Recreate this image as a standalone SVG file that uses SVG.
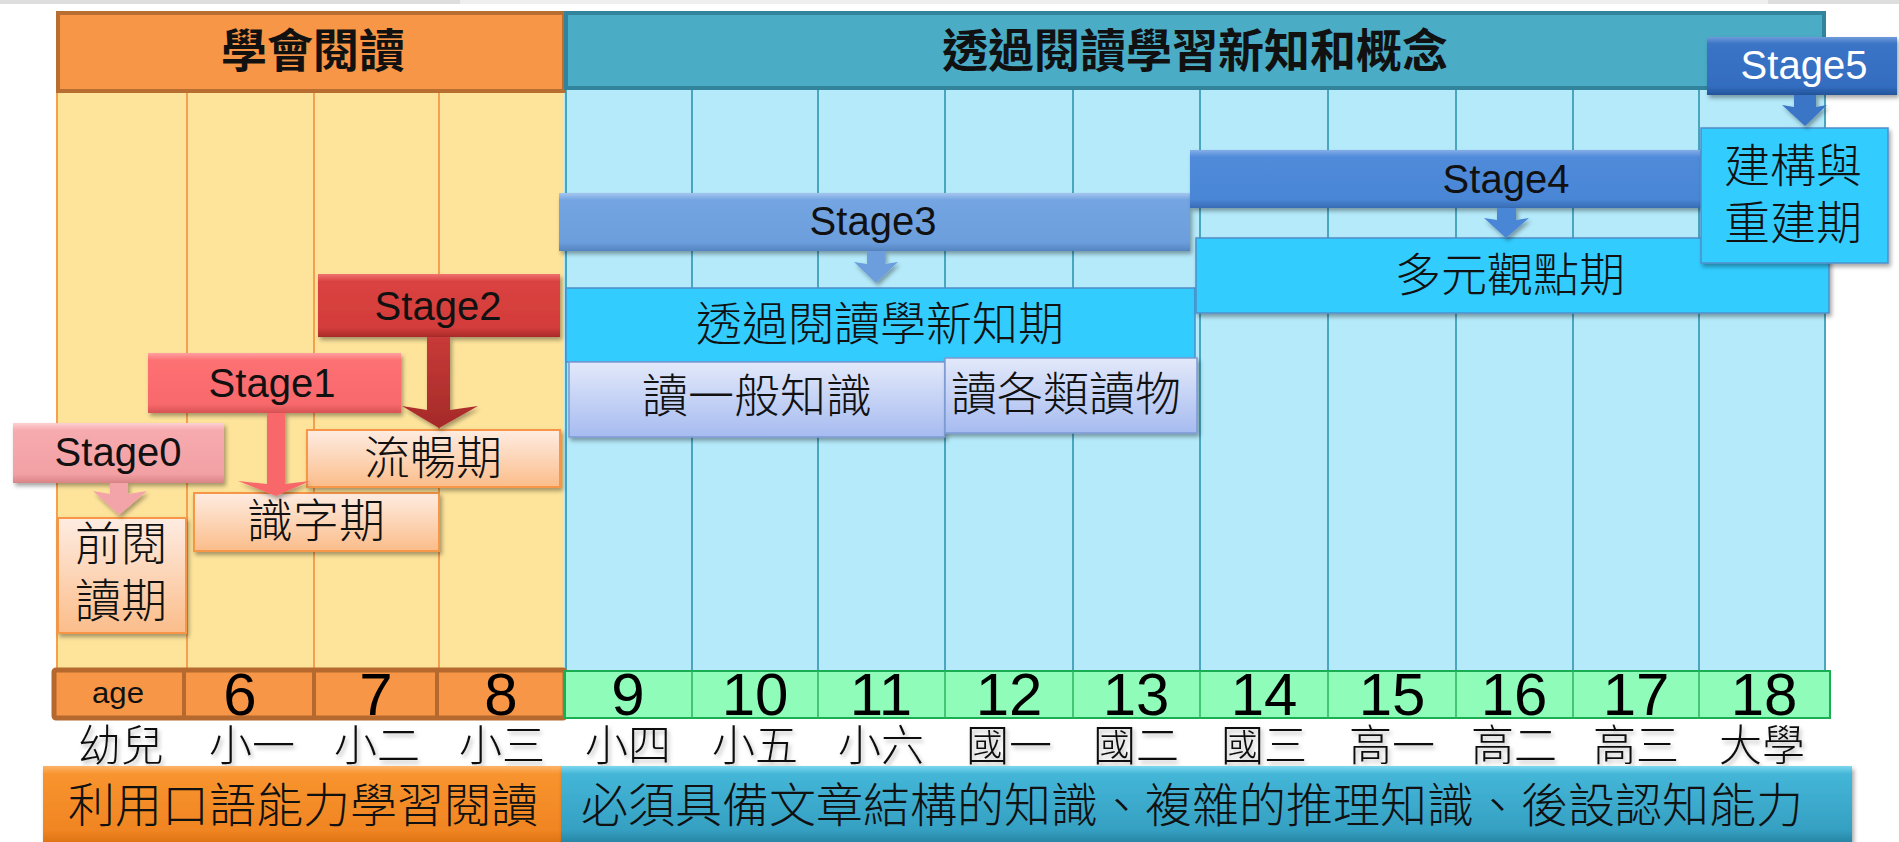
<svg xmlns="http://www.w3.org/2000/svg" width="1899" height="842" viewBox="0 0 1899 842">
<style>
.cjk{font-family:"Noto Sans CJK TC","Noto Sans CJK SC",sans-serif;fill:#111;}
.hdr{font-size:46px;font-weight:700;text-anchor:middle;}
.lbl{font-size:46px;font-weight:300;text-anchor:middle;}
.grade{font-size:43px;font-weight:300;text-anchor:middle;}
.stg{font-family:"Liberation Sans",Arial,sans-serif;font-size:40px;text-anchor:middle;fill:#111;}
.num{font-family:"Liberation Sans",Arial,sans-serif;font-size:60px;text-anchor:middle;fill:#000;}
.ycol{stroke:#F5A04F;stroke-width:2;}
.bcol{stroke:#4AA6BF;stroke-width:2;}
.gdiv{stroke:#2DB45C;stroke-width:1.5;}
.odiv{stroke:#B5692F;stroke-width:4;}
.peach{fill:url(#peach);stroke:#F79646;stroke-width:2;}
.cyan{fill:#33CCFF;stroke:#4F8FC9;stroke-width:1.5;}
.lav{fill:url(#lav);stroke:#7C9AD4;stroke-width:1.5;}
</style>
<defs>
<filter id="sh" x="-10%" y="-20%" width="130%" height="160%"><feDropShadow dx="2" dy="3" stdDeviation="2" flood-color="#000" flood-opacity="0.35"/></filter>
<filter id="tsh" x="-10%" y="-20%" width="130%" height="160%"><feDropShadow dx="2" dy="3" stdDeviation="2" flood-color="#000" flood-opacity="0.28"/></filter>
<linearGradient id="g0" x1="0" y1="0" x2="0" y2="1"><stop offset="0" stop-color="#FCD0D2"/><stop offset="0.12" stop-color="#F7ABAE"/><stop offset="0.85" stop-color="#F2A0A4"/><stop offset="1" stop-color="#D98487"/></linearGradient>
<linearGradient id="g1" x1="0" y1="0" x2="0" y2="1"><stop offset="0" stop-color="#FFA0A2"/><stop offset="0.12" stop-color="#FD7073"/><stop offset="0.85" stop-color="#F8696C"/><stop offset="1" stop-color="#D85254"/></linearGradient>
<linearGradient id="g2" x1="0" y1="0" x2="0" y2="1"><stop offset="0" stop-color="#F07270"/><stop offset="0.12" stop-color="#DA4341"/><stop offset="0.85" stop-color="#D33C3A"/><stop offset="1" stop-color="#A82B2A"/></linearGradient>
<linearGradient id="g3" x1="0" y1="0" x2="0" y2="1"><stop offset="0" stop-color="#A6C6EE"/><stop offset="0.12" stop-color="#74A5E2"/><stop offset="0.85" stop-color="#6C9EDD"/><stop offset="1" stop-color="#5584C0"/></linearGradient>
<linearGradient id="g4" x1="0" y1="0" x2="0" y2="1"><stop offset="0" stop-color="#86AEE8"/><stop offset="0.12" stop-color="#508BDA"/><stop offset="0.85" stop-color="#4A86D6"/><stop offset="1" stop-color="#386CB4"/></linearGradient>
<linearGradient id="g5" x1="0" y1="0" x2="0" y2="1"><stop offset="0" stop-color="#6F9BDA"/><stop offset="0.12" stop-color="#3A74C6"/><stop offset="0.85" stop-color="#336DC0"/><stop offset="1" stop-color="#24549A"/></linearGradient>
<linearGradient id="a2" x1="0" y1="0" x2="0" y2="1"><stop offset="0" stop-color="#C83A38"/><stop offset="1" stop-color="#A52A29"/></linearGradient>
<linearGradient id="peach" x1="0" y1="0" x2="0" y2="1"><stop offset="0" stop-color="#FEECE2"/><stop offset="1" stop-color="#FBBD8A"/></linearGradient>
<linearGradient id="lav" x1="0" y1="0" x2="0" y2="1"><stop offset="0" stop-color="#E3E9FA"/><stop offset="1" stop-color="#A6BBF0"/></linearGradient>
<linearGradient id="bo" x1="0" y1="0" x2="0" y2="1"><stop offset="0" stop-color="#FDB46A"/><stop offset="0.1" stop-color="#F8942F"/><stop offset="0.8" stop-color="#F08522"/><stop offset="1" stop-color="#D86F12"/></linearGradient>
<linearGradient id="bt" x1="0" y1="0" x2="0" y2="1"><stop offset="0" stop-color="#7DD6EE"/><stop offset="0.1" stop-color="#44B6D8"/><stop offset="0.8" stop-color="#35A0C2"/><stop offset="1" stop-color="#247E9C"/></linearGradient>
</defs>

<rect x="0" y="0" width="1899" height="842" fill="#FFFFFF"/>
<rect x="0" y="0" width="1899" height="4" fill="#EEEEEE"/>
<rect x="0" y="0" width="460" height="4" fill="#DEDEDE"/>
<rect x="1768" y="0" width="131" height="4" fill="#DEDEDE"/>

<g id="grid">
<rect x="57" y="92" width="507" height="578" fill="#FEE49B"/>
<rect x="564" y="89" width="1261" height="582" fill="#B5EAFA"/>
<line class="ycol" x1="57" y1="92" x2="57" y2="670"/>
<line class="ycol" x1="187" y1="92" x2="187" y2="670"/>
<line class="ycol" x1="314" y1="92" x2="314" y2="670"/>
<line class="ycol" x1="439" y1="92" x2="439" y2="670"/>
<line class="bcol" x1="566" y1="89" x2="566" y2="671"/>
<line class="bcol" x1="692" y1="89" x2="692" y2="671"/>
<line class="bcol" x1="818" y1="89" x2="818" y2="671"/>
<line class="bcol" x1="945" y1="89" x2="945" y2="671"/>
<line class="bcol" x1="1073" y1="89" x2="1073" y2="671"/>
<line class="bcol" x1="1200" y1="89" x2="1200" y2="671"/>
<line class="bcol" x1="1328" y1="89" x2="1328" y2="671"/>
<line class="bcol" x1="1456" y1="89" x2="1456" y2="671"/>
<line class="bcol" x1="1573" y1="89" x2="1573" y2="671"/>
<line class="bcol" x1="1699" y1="89" x2="1699" y2="671"/>
<line class="bcol" x1="1825" y1="89" x2="1825" y2="671"/>
</g>

<g id="header-learn">
<rect x="58" y="13" width="506" height="78" fill="#F79646" stroke="#B86E30" stroke-width="4"/>
<text class="cjk hdr" x="313" y="67">學會閱讀</text>
</g>
<g id="header-read">
<rect x="566" y="13" width="1258" height="75" fill="#4BACC6" stroke="#31849B" stroke-width="4"/>
<text class="cjk hdr" x="1195" y="67">透過閱讀學習新知和概念</text>
</g>

<g id="age-row">
<rect x="54" y="670" width="511" height="48" fill="#F79646" stroke="#B5692F" stroke-width="5" rx="2"/>
<line class="odiv" x1="184" y1="670" x2="184" y2="718"/>
<line class="odiv" x1="314" y1="670" x2="314" y2="718"/>
<line class="odiv" x1="437" y1="670" x2="437" y2="718"/>
<rect x="565" y="671" width="1265" height="47" fill="#8FFCBA" stroke="#19AE52" stroke-width="2"/>
<line class="gdiv" x1="692" y1="671" x2="692" y2="718"/>
<line class="gdiv" x1="818" y1="671" x2="818" y2="718"/>
<line class="gdiv" x1="945" y1="671" x2="945" y2="718"/>
<line class="gdiv" x1="1073" y1="671" x2="1073" y2="718"/>
<line class="gdiv" x1="1200" y1="671" x2="1200" y2="718"/>
<line class="gdiv" x1="1328" y1="671" x2="1328" y2="718"/>
<line class="gdiv" x1="1456" y1="671" x2="1456" y2="718"/>
<line class="gdiv" x1="1573" y1="671" x2="1573" y2="718"/>
<line class="gdiv" x1="1699" y1="671" x2="1699" y2="718"/>
<text x="118" y="703" font-family="Liberation Sans, Arial, sans-serif" font-size="30" text-anchor="middle" fill="#111" textLength="52" lengthAdjust="spacingAndGlyphs">age</text>
<text class="num" x="240" y="715">6</text>
<text class="num" x="376" y="715">7</text>
<text class="num" x="501" y="715">8</text>
<text class="num" x="628" y="715">9</text>
<text class="num" x="755" y="715">10</text>
<text class="num" x="881" y="715">11</text>
<text class="num" x="1009" y="715">12</text>
<text class="num" x="1136" y="715">13</text>
<text class="num" x="1264" y="715">14</text>
<text class="num" x="1392" y="715">15</text>
<text class="num" x="1514" y="715">16</text>
<text class="num" x="1636" y="715">17</text>
<text class="num" x="1764" y="715">18</text>
</g>

<g id="grades" filter="url(#tsh)">
<text class="cjk grade" x="121" y="761">幼兒</text>
<text class="cjk grade" x="252" y="761">小一</text>
<text class="cjk grade" x="377" y="761">小二</text>
<text class="cjk grade" x="502" y="761">小三</text>
<text class="cjk grade" x="628" y="761">小四</text>
<text class="cjk grade" x="755" y="761">小五</text>
<text class="cjk grade" x="881" y="761">小六</text>
<text class="cjk grade" x="1009" y="761">國一</text>
<text class="cjk grade" x="1136" y="761">國二</text>
<text class="cjk grade" x="1264" y="761">國三</text>
<text class="cjk grade" x="1392" y="761">高一</text>
<text class="cjk grade" x="1514" y="761">高二</text>
<text class="cjk grade" x="1636" y="761">高三</text>
<text class="cjk grade" x="1762" y="761">大學</text>
</g>

<g id="bar-oral">
<rect x="43" y="766" width="518" height="80" fill="url(#bo)" filter="url(#sh)"/>
<text class="cjk" x="68" y="822" font-size="47" font-weight="300">利用口語能力學習閱讀</text>
</g>
<g id="bar-structure">
<rect x="561" y="766" width="1291" height="80" fill="url(#bt)" filter="url(#sh)"/>
<text class="cjk" x="581" y="822" font-size="47" font-weight="300">必須具備文章結構的知識、複雜的推理知識、後設認知能力</text>
</g>

<g id="stage-pre-reading">
<rect class="peach" x="58" y="518" width="128" height="115" filter="url(#sh)"/>
<text class="cjk lbl" font-size="44" x="121" y="560">前閱</text>
<text class="cjk lbl" font-size="44" x="121" y="617">讀期</text>
</g>
<g id="stage-literacy">
<rect class="peach" x="194" y="493" width="245" height="58" filter="url(#sh)"/>
<text class="cjk lbl" x="316" y="537">識字期</text>
</g>
<g id="stage-fluency">
<rect class="peach" x="307" y="430" width="253" height="57" filter="url(#sh)"/>
<text class="cjk lbl" x="433" y="474">流暢期</text>
</g>
<g id="stage-new-knowledge">
<rect class="cyan" x="566" y="288" width="629" height="74"/>
<text class="cjk lbl" x="880" y="340">透過閱讀學新知期</text>
</g>
<g id="stage-general">
<rect class="lav" x="569" y="362" width="376" height="75" filter="url(#sh)"/>
<text class="cjk lbl" x="757" y="412">讀一般知識</text>
</g>
<g id="stage-various">
<rect class="lav" x="945" y="358" width="252" height="75" filter="url(#sh)"/>
<text class="cjk lbl" x="1066" y="410">讀各類讀物</text>
</g>
<g id="stage-multi">
<rect class="cyan" x="1196" y="238" width="633" height="75" filter="url(#sh)"/>
<text class="cjk lbl" x="1510" y="291">多元觀點期</text>
</g>

<g id="Stage0">
<rect x="13" y="423" width="211" height="60" fill="url(#g0)" filter="url(#sh)"/>
<text class="stg" x="118" y="466">Stage0</text>
</g>
<g id="Stage1">
<rect x="148" y="353" width="253" height="60" fill="url(#g1)" filter="url(#sh)"/>
<text class="stg" x="272" y="397">Stage1</text>
</g>
<g id="Stage2">
<rect x="318" y="274" width="242" height="63" fill="url(#g2)" filter="url(#sh)"/>
<text class="stg" x="438" y="320">Stage2</text>
</g>
<g id="Stage3">
<rect x="559" y="193" width="631" height="58" fill="url(#g3)" filter="url(#sh)"/>
<text class="stg" x="873" y="235">Stage3</text>
</g>
<g id="Stage4">
<rect x="1190" y="150" width="530" height="58" fill="url(#g4)" filter="url(#sh)"/>
<text class="stg" x="1506" y="193">Stage4</text>
</g>
<g id="stage-reconstruct">
<rect class="cyan" x="1701" y="128" width="187" height="135" filter="url(#sh)"/>
<text class="cjk lbl" x="1793" y="182">建構與</text>
<text class="cjk lbl" x="1793" y="239">重建期</text>
</g>
<g id="Stage5">
<rect x="1707" y="37" width="190" height="58" fill="url(#g5)" filter="url(#sh)"/>
<text class="stg" x="1804" y="79" style="fill:#FFFFFF">Stage5</text>
</g>

<g id="connectors" filter="url(#sh)">
<polygon points="110,483 128,483 128,494 147,491 119,515 93,491 110,494" fill="#F3A4A8"/>
<polygon points="267,413 285,413 285,484 310,481 276,496 238,481 267,484" fill="#F8686B"/>
<polygon points="427,337 450,337 450,410 478,406 439,428 402,406 427,410" fill="url(#a2)"/>
<polygon points="867,251 885,251 885,264 898,262 876,283 854,262 867,264" fill="#6C9EDD"/>
<polygon points="1497,208 1516,208 1516,220 1529,218 1506,238 1484,218 1497,220" fill="#4A86D6"/>
<polygon points="1794,95 1816,95 1816,107 1827,105 1805,126 1782,105 1794,107" fill="#3A74C6"/>
</g>
</svg>
